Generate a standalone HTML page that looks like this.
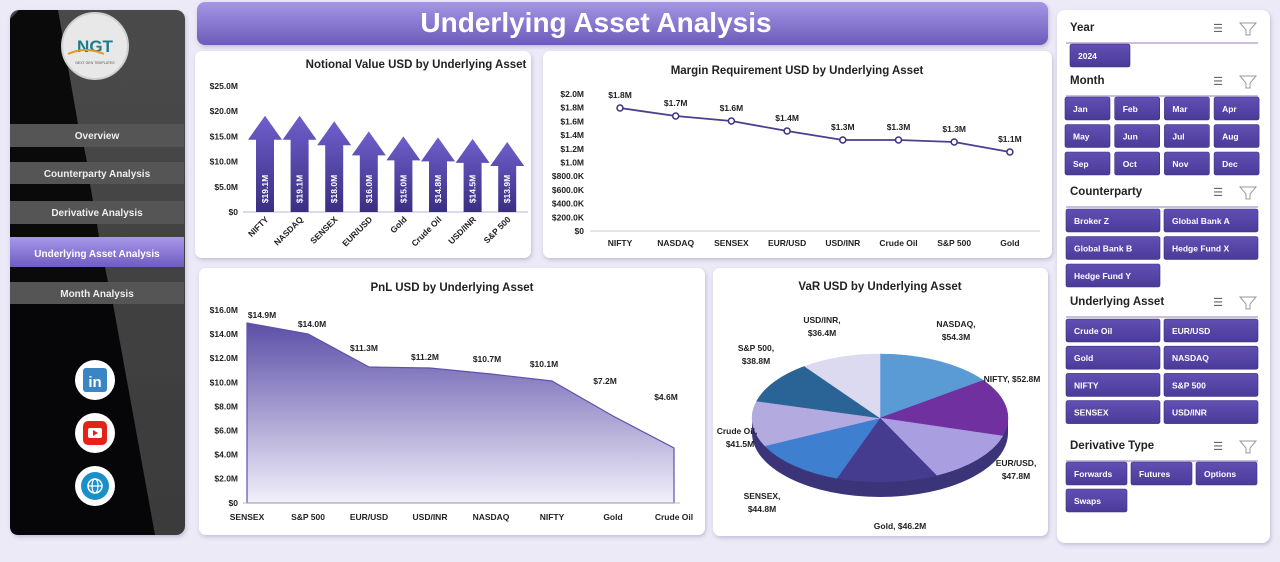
<!DOCTYPE html>
<html><head><meta charset="utf-8">
<style>
html,body{margin:0;padding:0;width:1280px;height:562px;overflow:hidden;background:#eceaf6;font-family:"Liberation Sans",sans-serif}
svg text{font-family:"Liberation Sans",sans-serif}
</style></head>
<body>
<svg id="s" width="1280" height="562" viewBox="0 0 1280 562" xmlns="http://www.w3.org/2000/svg">
<defs>
<linearGradient id="title" x1="0" y1="0" x2="0" y2="1"><stop offset="0" stop-color="#a596e6"/><stop offset="1" stop-color="#6c5bb8"/></linearGradient>
<linearGradient id="nav" x1="0" y1="0" x2="0" y2="1"><stop offset="0" stop-color="#a898ea"/><stop offset="1" stop-color="#6e5cc0"/></linearGradient>
<linearGradient id="arrow" x1="0" y1="0" x2="0" y2="1"><stop offset="0" stop-color="#6f5fcc"/><stop offset="1" stop-color="#3a2e82"/></linearGradient>
<linearGradient id="area" x1="0" y1="0" x2="0" y2="1"><stop offset="0" stop-color="#5c4fa8"/><stop offset="1" stop-color="#f2f0fa"/></linearGradient>
<linearGradient id="btn" x1="0" y1="0" x2="0" y2="1"><stop offset="0" stop-color="#6250b4"/><stop offset="1" stop-color="#4a3b98"/></linearGradient>
<linearGradient id="side" x1="0" y1="0" x2="0" y2="1"><stop offset="0" stop-color="#4a4a4a"/><stop offset="1" stop-color="#3a3a3a"/></linearGradient>
<filter id="sh" x="-5%" y="-5%" width="110%" height="115%"><feDropShadow dx="1" dy="2" stdDeviation="2" flood-color="#8a84b0" flood-opacity="0.45"/></filter>
</defs>
<!-- sidebar -->
<rect x="10" y="10" width="175" height="525" rx="9" fill="url(#side)" filter="url(#sh)"/>
<path d="M19,10 L58,10 L78,124 L10,124 L10,19 Z" fill="#0a0a0a"/>
<path d="M10,147 L84,147 L87,162 L10,162 Z" fill="#0a0a0a"/>
<path d="M10,184 L90,184 L93,201 L10,201Z" fill="#0a0a0a"/>
<path d="M10,224 L97,224 L99,237 L10,237Z" fill="#0a0a0a"/>
<path d="M10,267 L105,267 L108,282 L10,282Z" fill="#0a0a0a"/>
<path d="M10,304 L113,304 L155,535 L19,535 Q10,535 10,526Z" fill="#060608"/>
<circle cx="95" cy="46" r="33" fill="#e8e8e8" stroke="#cfcfcf" stroke-width="2"/>
<text x="95" y="52" text-anchor="middle" font-size="17" font-weight="bold" fill="#1f7a8c">NGT</text>
<path d="M68,54 Q85,46 104,54" stroke="#e09a2a" stroke-width="2" fill="none"/>
<text x="95" y="64" text-anchor="middle" font-size="3.5" fill="#555">NEXT GEN TEMPLATES</text>
<rect x="10" y="124" width="174" height="23" fill="#555"/>
<text x="97" y="139" text-anchor="middle" font-size="10" font-weight="bold" fill="#eee">Overview</text>
<rect x="10" y="162" width="174" height="22" fill="#555"/>
<text x="97" y="177" text-anchor="middle" font-size="10" font-weight="bold" fill="#eee">Counterparty Analysis</text>
<rect x="10" y="201" width="174" height="23" fill="#555"/>
<text x="97" y="216" text-anchor="middle" font-size="10" font-weight="bold" fill="#eee">Derivative Analysis</text>
<rect x="10" y="237" width="174" height="30" fill="url(#nav)"/>
<text x="97" y="257" text-anchor="middle" font-size="10" font-weight="bold" fill="#fff">Underlying Asset Analysis</text>
<rect x="10" y="282" width="174" height="22" fill="#555"/>
<text x="97" y="297" text-anchor="middle" font-size="10" font-weight="bold" fill="#eee">Month Analysis</text>
<circle cx="95" cy="380" r="20" fill="#fff"/><rect x="83" y="368" width="24" height="24" rx="3" fill="#3a86c4"/>
<text x="95" y="387" text-anchor="middle" font-size="15" font-weight="bold" fill="#fff">in</text>
<circle cx="95" cy="433" r="20" fill="#fff"/><rect x="83" y="421" width="24" height="24" rx="5" fill="#e62117"/>
<rect x="88" y="428" width="14" height="10" rx="2" fill="#fff"/><path d="M93,430 L98,433 L93,436Z" fill="#e62117"/>
<circle cx="95" cy="486" r="20" fill="#fff"/><circle cx="95" cy="486" r="14" fill="#1a8fc8"/>
<circle cx="95" cy="486" r="7" fill="none" stroke="#fff" stroke-width="1.5"/><ellipse cx="95" cy="486" rx="3" ry="7" fill="none" stroke="#fff" stroke-width="1.2"/><line x1="88" y1="486" x2="102" y2="486" stroke="#fff" stroke-width="1.2"/>
<!-- title -->
<rect x="197" y="2" width="851" height="43" rx="8" fill="url(#title)" filter="url(#sh)"/>
<text x="596" y="32" text-anchor="middle" font-size="28" font-weight="bold" fill="#fff">Underlying Asset Analysis</text>
<!-- panels -->
<rect x="195" y="51" width="336" height="207" rx="7" fill="#fff" filter="url(#sh)"/>
<rect x="543" y="51" width="509" height="207" rx="7" fill="#fff" filter="url(#sh)"/>
<rect x="199" y="268" width="506" height="267" rx="7" fill="#fff" filter="url(#sh)"/>
<rect x="713" y="268" width="335" height="268" rx="7" fill="#fff" filter="url(#sh)"/>
<rect x="1057" y="10" width="213" height="533" rx="8" fill="#fff" filter="url(#sh)"/>
<text x="416" y="68" text-anchor="middle" font-size="11.5" font-weight="bold" fill="#222">Notional Value USD by Underlying Asset</text>
<text x="797" y="74" text-anchor="middle" font-size="11.5" font-weight="bold" fill="#222">Margin Requirement USD by Underlying Asset</text>
<text x="452" y="291" text-anchor="middle" font-size="11.5" font-weight="bold" fill="#222">PnL USD by Underlying Asset</text>
<text x="880" y="290" text-anchor="middle" font-size="11.5" font-weight="bold" fill="#222">VaR USD by Underlying Asset</text>
<g id="dyn"></g>
</svg>
<script>
var g=document.getElementById('dyn'),h='';
function t(x,y,s,o){o=o||{};h+='<text x="'+x+'" y="'+y+'" font-size="'+(o.fs||9)+'" font-weight="'+(o.fw||'bold')+'" fill="'+(o.c||'#222')+'" text-anchor="'+(o.a||'middle')+'"'+(o.tr?' transform="'+o.tr+'"':'')+'>'+s+'</text>';}
// chart1
['$25.0M','$20.0M','$15.0M','$10.0M','$5.0M','$0'].forEach(function(l,i){t(238,89+i*25.2,l,{a:'end',fs:8.5});});
h+='<line x1="243" y1="212" x2="528" y2="212" stroke="#b8b2dc"/>';
var n1=['NIFTY','NASDAQ','SENSEX','EUR/USD','Gold','Crude Oil','USD/INR','S&amp;P 500'],v1=[19.1,19.1,18.0,16.0,15.0,14.8,14.5,13.9];
n1.forEach(function(n,i){var cx=265+i*34.6,top=212-v1[i]*5.04,hh=24;
h+='<path d="M'+cx+','+top+' L'+(cx+17)+','+(top+hh)+' L'+(cx+9)+','+(top+hh)+' L'+(cx+9)+',212 L'+(cx-9)+',212 L'+(cx-9)+','+(top+hh)+' L'+(cx-17)+','+(top+hh)+'Z" fill="url(#arrow)"/>';
t(0,0,'$'+v1[i].toFixed(1)+'M',{c:'#fff',fs:8.5,tr:'translate('+(cx+3)+',189) rotate(-90)'});
t(0,0,n,{a:'end',fs:8.5,tr:'translate('+(cx+4)+',220) rotate(-45)'});});
// chart2
['$2.0M','$1.8M','$1.6M','$1.4M','$1.2M','$1.0M','$800.0K','$600.0K','$400.0K','$200.0K','$0'].forEach(function(l,i){t(584,97+i*13.7,l,{a:'end',fs:8.5});});
h+='<line x1="590" y1="231" x2="1040" y2="231" stroke="#ccc"/>';
var n2=['NIFTY','NASDAQ','SENSEX','EUR/USD','USD/INR','Crude Oil','S&amp;P 500','Gold'],v2=[1.8,1.7,1.6,1.4,1.3,1.3,1.3,1.1],p2=[108,116,121,131,140,140,142,152],pts=[];
n2.forEach(function(n,i){var x=620+i*55.7;pts.push(x+','+p2[i]);t(x,246,n,{fs:8.5});t(x,p2[i]-10,'$'+v2[i]+'M',{fs:8.5});});
h+='<polyline points="'+pts.join(' ')+'" fill="none" stroke="#4b3f8f" stroke-width="1.8" stroke-linejoin="round"/>';
pts.forEach(function(p){var q=p.split(',');h+='<circle cx="'+q[0]+'" cy="'+q[1]+'" r="3" fill="#fff" stroke="#3c3080" stroke-width="1.5"/>';});
// chart3
['$16.0M','$14.0M','$12.0M','$10.0M','$8.0M','$6.0M','$4.0M','$2.0M','$0'].forEach(function(l,i){t(238,313+i*24.1,l,{a:'end',fs:8.5});});
var n3=['SENSEX','S&amp;P 500','EUR/USD','USD/INR','NASDAQ','NIFTY','Gold','Crude Oil'],v3=['$14.9M','$14.0M','$11.3M','$11.2M','$10.7M','$10.1M','$7.2M','$4.6M'],y3=[323,334,367,368,374,381,416,448],lx=[262,312,364,425,487,544,605,666],ly=[318,327,351,360,362,367,384,400],ap='M247,503';
n3.forEach(function(n,i){var x=247+i*61;ap+=' L'+x+','+y3[i];t(x,520,n,{fs:8.5});t(lx[i],ly[i],v3[i],{fs:8.5});});
ap+=' L674,503Z';h+='<path d="'+ap+'" fill="url(#area)" stroke="#5e52ad" stroke-width="1.2"/>';
h+='<line x1="243" y1="503" x2="680" y2="503" stroke="#bbb"/>';
// pie
var cx=880,cy=418,rx=128,ry=64,th=15,vals=[54.3,52.8,47.8,46.2,44.8,41.5,38.8,36.4],cols=['#5b9bd5','#7030a0','#a99ee0','#463c8f','#3f7fd0','#b3abe0','#2a6496','#dcdaf0'],tot=0;
vals.forEach(function(v){tot+=v});
h+='<ellipse cx="'+cx+'" cy="'+(cy+th)+'" rx="'+rx+'" ry="'+ry+'" fill="#3c3478"/>';
h+='<rect x="'+(cx-rx)+'" y="'+cy+'" width="'+(2*rx)+'" height="'+th+'" fill="#3c3478"/>';
var a=0;vals.forEach(function(v,i){var a2=a+v/tot*2*Math.PI;var x1=cx+rx*Math.sin(a),y1=cy-ry*Math.cos(a),x2=cx+rx*Math.sin(a2),y2=cy-ry*Math.cos(a2);
h+='<path d="M'+cx+','+cy+' L'+x1.toFixed(1)+','+y1.toFixed(1)+' A'+rx+','+ry+' 0 '+((a2-a)>Math.PI?1:0)+',1 '+x2.toFixed(1)+','+y2.toFixed(1)+'Z" fill="'+cols[i]+'" stroke="'+cols[i]+'" stroke-width="0.5"/>';a=a2;});
[['NASDAQ,',956,327],['$54.3M',956,340],['NIFTY, $52.8M',1012,382],['EUR/USD,',1016,466],['$47.8M',1016,479],['Gold, $46.2M',900,529],['SENSEX,',762,499],['$44.8M',762,512],['Crude Oil,',737,434],['$41.5M',740,447],['S&amp;P 500,',756,351],['$38.8M',756,364],['USD/INR,',822,323],['$36.4M',822,336]].forEach(function(l){t(l[1],l[2],l[0],{fs:8.5});});
// slicers
function hdr(y,s,lw){t(1070,y,s,{a:'start',fs:11.5,c:'#222'});h+='<line x1="1066" y1="'+(y+12)+'" x2="1258" y2="'+(y+12)+'" stroke="#b9a9d6" stroke-width="1.5"/>';
h+='<text x="1218" y="'+(y+1)+'" font-size="11" fill="#666" text-anchor="middle">☰</text><path d="M1240,'+(y-8)+' L1256,'+(y-8)+' L1250,'+(y-1)+' L1250,'+(y+4)+' L1246,'+(y+4)+' L1246,'+(y-1)+'Z" fill="none" stroke="#999"/>';}
function btn(x,y,w,s){h+='<rect x="'+x+'" y="'+y+'" width="'+w+'" height="23" rx="2" fill="url(#btn)" stroke="#3a2e7e" stroke-width="0.6"/>';t(x+8,y+15,s,{a:'start',fs:8.5,c:'#fff'});}
hdr(31,'Year');btn(1070,44,60,'2024');
hdr(84,'Month');['Jan','Feb','Mar','Apr','May','Jun','Jul','Aug','Sep','Oct','Nov','Dec'].forEach(function(m,i){btn(1065+(i%4)*49.7,97+Math.floor(i/4)*27.5,45,m);});
hdr(195,'Counterparty');['Broker Z','Global Bank A','Global Bank B','Hedge Fund X','Hedge Fund Y'].forEach(function(m,i){btn(1066+(i%2)*98,209+Math.floor(i/2)*27.5,94,m);});
hdr(305,'Underlying Asset');['Crude Oil','EUR/USD','Gold','NASDAQ','NIFTY','S&amp;P 500','SENSEX','USD/INR'].forEach(function(m,i){btn(1066+(i%2)*98,319+Math.floor(i/2)*27.2,94,m);});
hdr(449,'Derivative Type');['Forwards','Futures','Options','Swaps'].forEach(function(m,i){btn(1066+(i%3)*65,462+Math.floor(i/3)*27,61,m);});
g.innerHTML=h;
</script>
</body></html>
